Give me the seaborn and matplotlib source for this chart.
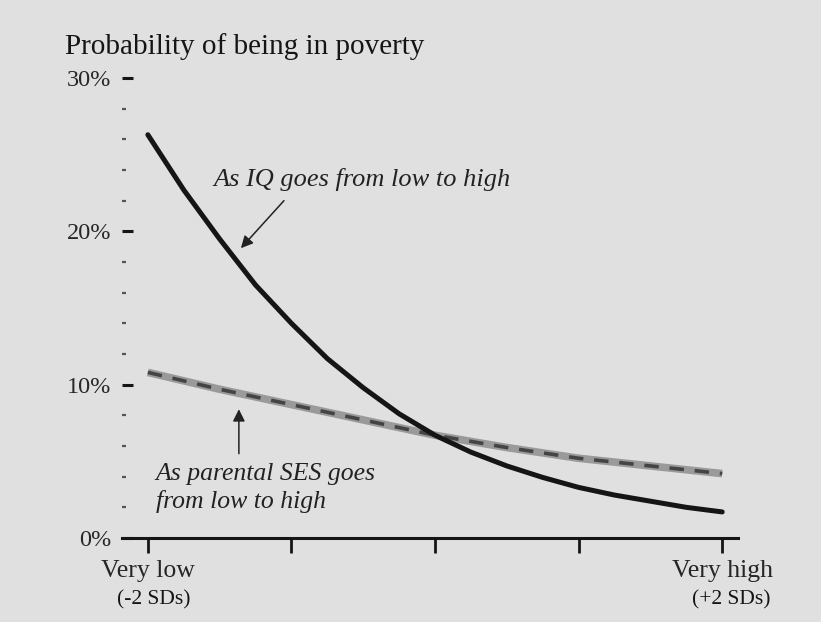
import numpy as np
import pandas as pd
import seaborn as sns
import matplotlib.pyplot as plt
from matplotlib.ticker import MultipleLocator

# SDs from the mean, -2 (very low) to +2 (very high)
sd = [-2.0, -1.75, -1.5, -1.25, -1.0, -0.75, -0.5, -0.25, 0.0,
      0.25, 0.5, 0.75, 1.0, 1.25, 1.5, 1.75, 2.0]
# probability of being in poverty, percent
iq = [26.3, 22.7, 19.5, 16.5, 14.0, 11.7, 9.8, 8.1, 6.7,
      5.6, 4.7, 3.95, 3.3, 2.8, 2.4, 2.0, 1.7]
ses = [10.8, 10.25, 9.7, 9.2, 8.7, 8.2, 7.7, 7.2, 6.7,
       6.3, 5.9, 5.55, 5.2, 4.95, 4.7, 4.45, 4.2]

y_ticks = [0, 10, 20, 30]
y_labels = ['0%', '10%', '20%', '30%']
x_ticks = [-2, -1, 0, 1, 2]
x_labels = ['Very low', '', '', '', 'Very high']
x_sublabels = {-2: '(-2 SDs)', 2: '(+2 SDs)'}

df = pd.DataFrame({'sd': sd, 'iq': iq, 'ses': ses})

sns.set_style('white')
plt.rcParams['font.family'] = ['Liberation Serif', 'DejaVu Serif']
paper = '#e0e0e0'
ink = '#151515'

fig = plt.figure(figsize=(8.21, 6.22), dpi=100, facecolor=paper)
ax = fig.add_axes([122 / 821, 84 / 622, 616 / 821, 460 / 622], facecolor=paper)

sns.lineplot(data=df, x='sd', y='ses', ax=ax, color='#9a9a9a', lw=5.5,
             solid_capstyle='butt', clip_on=False)
sns.lineplot(data=df, x='sd', y='ses', ax=ax, color='#444444', lw=2.6,
             clip_on=False).lines[-1].set_dashes([4, 3])
sns.lineplot(data=df, x='sd', y='iq', ax=ax, color=ink, lw=3.6,
             clip_on=False)
for ln in ax.lines:
    ln.set_solid_joinstyle('round')

ax.set_xlim(-2.18, 2.11)
ax.set_ylim(0, 30)
ax.set_xlabel('')
ax.set_ylabel('')

for s in ['top', 'right', 'left']:
    ax.spines[s].set_visible(False)
ax.spines['bottom'].set_linewidth(2.2)
ax.spines['bottom'].set_color(ink)

ax.set_xticks(x_ticks)
ax.set_xticklabels(x_labels, fontsize=18.5)
ax.tick_params(axis='x', bottom=True, direction='out', length=11, width=2,
               color=ink, pad=5)
for xv, sub in x_sublabels.items():
    ax.text(xv + (0.06 if xv > 0 else 0.04), -0.135, sub,
            transform=ax.get_xaxis_transform(), fontsize=15.5,
            ha='center', va='center', color=ink)

ax.set_yticks(y_ticks)
ax.set_yticklabels(y_labels, fontsize=17.5)
ax.yaxis.set_minor_locator(MultipleLocator(2))
ax.tick_params(axis='y', which='major', left=True, direction='in', length=8,
               width=2.2, color=ink, pad=8)
ax.tick_params(axis='y', which='minor', left=True, direction='in', length=3,
               width=1.6, color='#555555')

fig.text(65 / 821, 1 - 47 / 622, 'Probability of being in poverty',
         fontsize=21, color=ink, ha='left', va='center')

ax.text(-1.54, 23.4, 'As IQ goes from low to high', fontsize=19,
        style='italic', color='#222222', va='center', ha='left')
ax.annotate('', xy=(-1.352, 18.9), xytext=(-1.052, 22.0),
            arrowprops=dict(arrowstyle='-|>', color='#222222', lw=1.1,
                            mutation_scale=18, shrinkA=0, shrinkB=0))
ax.annotate('', xy=(-1.366, 8.4), xytext=(-1.366, 5.5),
            arrowprops=dict(arrowstyle='-|>', color='#222222', lw=1.1,
                            mutation_scale=18, shrinkA=0, shrinkB=0))
ax.text(-1.944, 3.26, 'As parental SES goes\nfrom low to high', fontsize=18.5,
        style='italic', color='#222222', va='center', ha='left',
        linespacing=1.32)

fig.savefig('out.png', dpi=100, facecolor=paper)
